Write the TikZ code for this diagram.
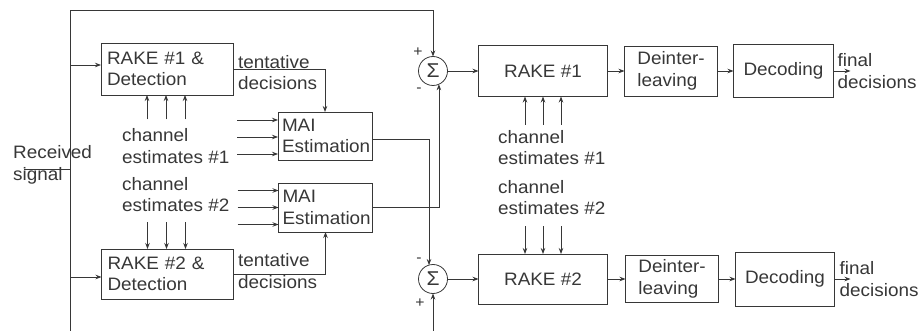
\documentclass[tikz,border=0pt]{standalone}
\usepackage{fontspec}
\setmainfont{Liberation Sans}[FakeStretch=1.05]
\usepackage{xcolor}
\usetikzlibrary{arrows.meta, positioning, calc}
\definecolor{inkgray}{RGB}{55, 55, 55}
\newcommand{\diagfont}{\fontsize{18}{21.5}\selectfont}
\tikzset{
  blockbox/.style={rectangle, draw=inkgray, line width=0.8pt, minimum width=#1,
              minimum height=51pt, inner sep=0pt, outer sep=0pt, align=center},
  blockbox/.default=100pt,
  leftbox/.style={rectangle, draw=inkgray, line width=0.8pt, minimum height=51pt,
              inner xsep=6pt, inner ysep=0pt, outer sep=0pt, align=left},
  sumnode/.style={circle, draw=inkgray, line width=0.8pt, minimum size=29pt,
              inner sep=0pt, outer sep=0pt, font=\fontsize{20}{20}\selectfont},
  txt/.style={inner sep=0pt, anchor=west, align=left},
  signlbl/.style={inner sep=0pt, font=\fontsize{15}{15}\selectfont},
  arrow/.style={-{Stealth[length=6pt, width=4.5pt]}, line width=0.8pt, color=inkgray},
  line/.style={line width=0.8pt, color=inkgray},
}
\begin{document}
\begin{tikzpicture}[x=1pt, y=-1pt, every node/.style={font=\diagfont, text=inkgray}]
  \useasboundingbox (0,0) rectangle (918,331);

  % first stage: detection and MAI estimation
  \node[leftbox, text width=120pt, minimum height=52pt] (rake1det) at (167,69) {RAKE \#1 \&\\Detection};
  \node[leftbox, text width=120pt, minimum height=50pt] (rake2det) at (167.5,274) {RAKE \#2 \&\\Detection};
  \node[leftbox, text width=86pt, inner xsep=4pt, minimum height=48pt] (mai1) at (325,136) {MAI\\Estimation};
  \node[leftbox, text width=86pt, inner xsep=4pt, minimum height=49pt] (mai2) at (325.5,207.5) {MAI\\Estimation};

  \node[txt] (recv) at (13,165) {Received\\signal};
  \node[txt] (tent1) at (238,72.5) {tentative\\decisions};
  \node[txt] (tent2) at (238,271) {tentative\\decisions};
  \node[txt, inner ysep=9pt] (chest1) at (122,146) {channel\\estimates \#1};
  \node[txt, inner ysep=10pt] (chest2) at (122,194.5) {channel\\estimates \#2};

  % second stage: cancellation, RAKE, deinterleaving, decoding
  \node[sumnode] (sum1) at (433,71) {Σ};
  \node[sumnode] (sum2) at (433,279) {Σ};
  \node[signlbl] (plus1) at (418,52) {+};
  \node[signlbl] (minus1) at (419,90) {-};
  \node[signlbl] (minus2) at (419,260) {-};
  \node[signlbl] (plus2) at (420,303) {+};

  \node[blockbox=129pt, right=31pt of sum1] (rake1) {RAKE \#1};
  \node[blockbox=93pt, align=left, minimum height=50pt, right=17pt of rake1] (deint1) {Deinter-\\leaving};
  \node[blockbox=100pt, minimum height=53pt, right=16pt of deint1] (dec1) {Decoding};
  \node[blockbox=129pt, minimum height=50pt, right=31pt of sum2] (rake2) {RAKE \#2};
  \node[blockbox=93pt, align=left, minimum height=47pt, right=18pt of rake2] (deint2) {Deinter-\\leaving};
  \node[blockbox=99pt, minimum height=54pt, right=17pt of deint2] (dec2) {Decoding};

  \node[txt, inner ysep=5pt] (chest1r) at (498,147.5) {channel\\estimates \#1};
  \node[txt, inner ysep=11pt] (chest2r) at (498,197.5) {channel\\estimates \#2};
  \node[txt, right=4pt of dec1] (final1) {final\\decisions};
  \node[txt, right=5pt of dec2] (final2) {final\\decisions};
  \coordinate[right=17pt of dec1] (out1);
  \coordinate[right=16pt of dec2] (out2);

  % received signal feed
  \coordinate (topL) at (70,10);
  \coordinate (botL) at (70,331);
  \coordinate (botR) at (433,331);
  \coordinate (recvin) at (24,169);
  \draw[line] (recvin) -- (recvin -| topL);
  \draw[arrow] (botL) -- (topL) -| (sum1.north);
  \draw[arrow] (botR) -- (sum2.south);
  \draw[arrow] ([yshift=4pt]rake1det.west -| topL) -- ([yshift=4pt]rake1det.west);
  \draw[arrow] ([yshift=-3pt]rake2det.west -| topL) -- ([yshift=-3pt]rake2det.west);

  % channel estimates
  \foreach \dx in {-20,-1,18} {
    \draw[arrow] ([xshift=\dx pt]rake1det.south |- chest1.north) -- ([xshift=\dx pt]rake1det.south);
    \draw[arrow] ([xshift=\dx pt]rake2det.north |- chest2.south) -- ([xshift=\dx pt]rake2det.north);
  }
  \foreach \dy in {16,-1,-18}
    \draw[arrow] ([xshift=-41pt, yshift=\dy pt]mai1.west) -- ([yshift=\dy pt]mai1.west);
  \foreach \dy in {17,0,-17}
    \draw[arrow] ([xshift=-41pt, yshift=\dy pt]mai2.west) -- ([yshift=\dy pt]mai2.west);
  \foreach \dx in {-18,0,18} {
    \draw[arrow] ([xshift=\dx pt]rake1.south |- chest1r.north) -- ([xshift=\dx pt]rake1.south);
    \draw[arrow] ([xshift=\dx pt]rake2.north |- chest2r.south) -- ([xshift=\dx pt]rake2.north);
  }

  % tentative decisions and MAI cancellation
  \draw[arrow] (rake1det.east) -| (mai1.north);
  \draw[arrow] (rake2det.east) -| (mai2.south);
  \draw[arrow] ([yshift=-3pt]mai1.east) -| (sum2.106);
  \draw[arrow] (mai2.east) -| (sum1.-66);

  % final chain
  \foreach \a/\b in {sum1/rake1, rake1/deint1, deint1/dec1, dec1/out1,
                     sum2/rake2, rake2/deint2, deint2/dec2, dec2/out2}
    \draw[arrow] (\a) -- (\b);
\end{tikzpicture}
\end{document}
